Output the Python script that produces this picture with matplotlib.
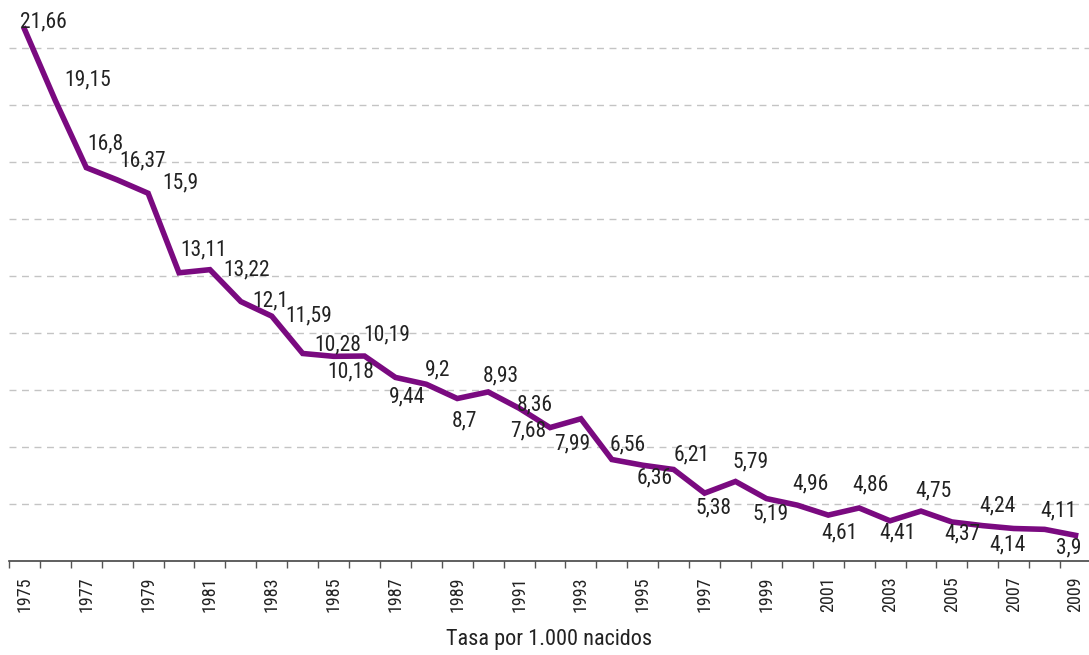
import matplotlib
matplotlib.use("Agg")
import matplotlib.pyplot as plt
import numpy as np

# datos: tasa por 1.000 nacidos
years = list(range(1975, 2010))
tasa = [21.66, 19.15, 16.8, 16.37, 15.9, 13.11, 13.22, 12.1, 11.59, 10.28,
        10.18, 10.19, 9.44, 9.2, 8.7, 8.93, 8.36, 7.68, 7.99, 6.56,
        6.36, 6.21, 5.38, 5.79, 5.19, 4.96, 4.61, 4.86, 4.41, 4.75,
        4.37, 4.24, 4.14, 4.11, 3.9]
etiquetas = [f"{v:g}".replace(".", ",") for v in tasa]

# desplazamiento de cada etiqueta (pixeles, x hacia la derecha, y hacia arriba)
label_offsets = [(19, 7), (32, 21), (19, 24), (25, 19), (32, 10), (25, 23),
                 (37, 0), (30, 1), (37, 0), (35, 9), (17, -16), (22, 21),
                 (12, -20), (11, 14), (7, -22), (13, 16), (16, 3), (-22, -3),
                 (-9, -25), (16, 15), (12, -13), (18, 15), (9, -15), (15, 20),
                 (4, -15), (13, 21), (11, -18), (11, 23), (7, -12), (12, 20),
                 (10, -12), (15, 20), (-6, -16), (14, 18), (-7, -13)]

plt.rcParams['font.family'] = ['Roboto Condensed', 'DejaVu Sans']

W, H = 1089, 655
fig = plt.figure(figsize=(W / 100, H / 100), dpi=100)
ax = fig.add_axes([9 / W, 94 / H, 1082 / W, 561 / H])

x = np.arange(len(years))
ax.plot(x, tasa, color="#7a0a80", lw=4.0, solid_joinstyle="miter", zorder=3,
        clip_on=False)

for xi, v, txt, (dx, dy) in zip(x, tasa, etiquetas, label_offsets):
    ax.annotate(txt, (xi, v), xytext=(dx, dy), textcoords="offset pixels",
                ha="center", va="center", fontsize=15.5, color="#222222",
                zorder=4)

ax.set_xlim(-0.5, len(years) - 0.5)
ax.set_ylim(3, 22.68)

# lineas de division
ax.set_yticks(np.arange(5, 22, 2))
ax.yaxis.grid(True, ls=(0, (5, 4)), color="#c4c4c4", lw=1)
ax.tick_params(axis="y", left=False, labelleft=False)

ax.set_xticks(x[::2])
ax.set_xticklabels([str(y) for y in years[::2]], rotation=90, fontsize=13,
                   color="#222222")
ax.set_xticks(np.arange(-0.5, len(years), 1), minor=True)
ax.tick_params(axis="x", which="major", length=0, pad=11)
ax.tick_params(axis="x", which="minor", length=5, width=1, color="#555555")

for s in ["top", "right", "left"]:
    ax.spines[s].set_visible(False)
ax.spines["bottom"].set_color("#444444")
ax.spines["bottom"].set_linewidth(1.2)

fig.text(549 / W, 1 - 640 / H, "Tasa por 1.000 nacidos", ha="center",
         va="center", fontsize=16, color="#222222")

fig.savefig("out.png", dpi=100)
